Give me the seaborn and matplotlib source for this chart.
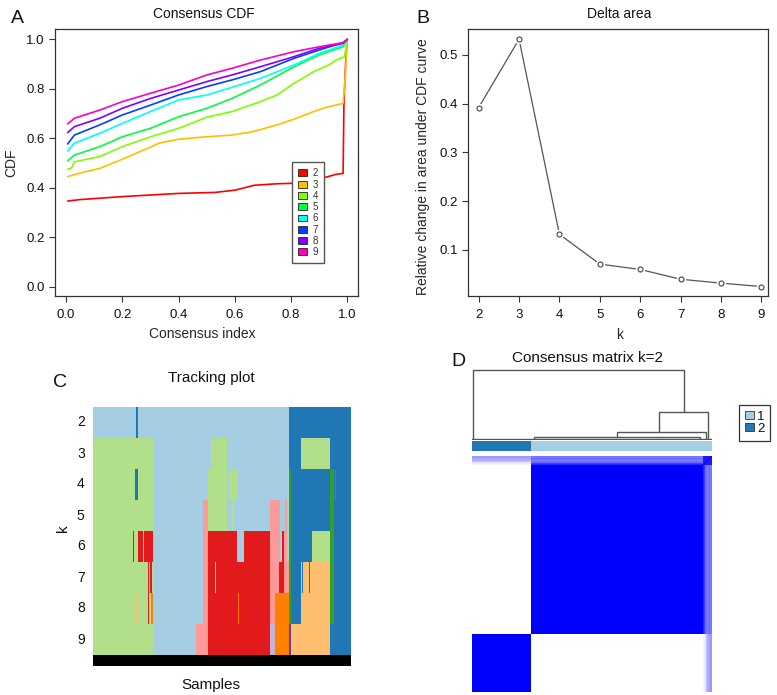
import numpy as np
import pandas as pd
import matplotlib
matplotlib.use("Agg")
import matplotlib.pyplot as plt
from matplotlib.colors import ListedColormap, LinearSegmentedColormap
from matplotlib.patches import Patch
from matplotlib.ticker import FormatStrFormatter
import seaborn as sns

# ---------------- Panel A: consensus CDF ----------------
cdf_k = [2, 3, 4, 5, 6, 7, 8, 9]
cdf_colors = ["#FF0000", "#FFBF00", "#80FF00", "#00FF40",
              "#00FFFF", "#0040FF", "#8000FF", "#FF00BF"]
x_k2 = [0.006, 0.05, 0.2, 0.4, 0.53, 0.6, 0.67, 0.75, 0.81, 0.86, 0.9, 0.96, 0.985, 0.988, 0.995, 1.0]
y_k2 = [0.346, 0.352, 0.364, 0.377, 0.381, 0.39, 0.41, 0.416, 0.418, 0.425, 0.435, 0.454, 0.458, 0.74, 0.93, 1.0]
x_k3 = [0.006, 0.06, 0.12, 0.2, 0.29, 0.33, 0.4, 0.5, 0.59, 0.665, 0.75, 0.81, 0.88, 0.925, 0.985, 0.99, 1.0]
y_k3 = [0.445, 0.462, 0.478, 0.515, 0.559, 0.58, 0.596, 0.606, 0.613, 0.627, 0.654, 0.677, 0.708, 0.725, 0.741, 0.80, 1.0]
x_k4 = [0.006, 0.02, 0.03, 0.12, 0.2, 0.3, 0.4, 0.5, 0.59, 0.69, 0.75, 0.81, 0.88, 0.94, 0.96, 0.99, 1.0]
y_k4 = [0.474, 0.48, 0.505, 0.526, 0.566, 0.606, 0.64, 0.685, 0.708, 0.748, 0.775, 0.822, 0.869, 0.90, 0.916, 0.93, 1.0]
x_hi = [0.006, 0.03, 0.12, 0.2, 0.3, 0.4, 0.5, 0.59, 0.69, 0.81, 0.9, 0.985, 1.0]
y_k5 = [0.509, 0.532, 0.566, 0.606, 0.64, 0.687, 0.721, 0.761, 0.815, 0.889, 0.937, 0.97, 1.0]
y_k6 = [0.549, 0.58, 0.62, 0.66, 0.708, 0.755, 0.775, 0.806, 0.842, 0.896, 0.943, 0.977, 1.0]
y_k7 = [0.577, 0.613, 0.654, 0.694, 0.734, 0.775, 0.809, 0.836, 0.869, 0.923, 0.957, 0.987, 1.0]
y_k8 = [0.623, 0.647, 0.681, 0.721, 0.761, 0.795, 0.829, 0.856, 0.889, 0.93, 0.964, 0.984, 1.0]
y_k9 = [0.658, 0.681, 0.714, 0.748, 0.782, 0.815, 0.856, 0.883, 0.916, 0.95, 0.97, 0.987, 1.0]
cdf_x_list = [x_k2, x_k3, x_k4, x_hi, x_hi, x_hi, x_hi, x_hi]
cdf_y_list = [y_k2, y_k3, y_k4, y_k5, y_k6, y_k7, y_k8, y_k9]

# ---------------- Panel B: delta area ----------------
delta_k = [2, 3, 4, 5, 6, 7, 8, 9]
delta_area = [0.392, 0.532, 0.132, 0.071, 0.060, 0.040, 0.032, 0.025]

# ---------------- Panel C: tracking plot ----------------
track_k = [2, 3, 4, 5, 6, 7, 8, 9]
track_colors = ["#A6CEE3", "#1F78B4", "#B2DF8A", "#33A02C", "#FB9A99",
                "#E31A1C", "#FDBF6F", "#FF7F00", "#CAB2D6", "#6A3D9A"]
n_track = 258
runs_k2 = [(1, 43), (2, 45), (1, 196), (2, 258)]
runs_k3 = [(3, 60), (1, 118), (3, 134), (1, 196), (2, 208), (3, 237), (2, 258)]
runs_k4 = [(3, 42), (2, 45), (3, 60), (1, 115), (3, 134), (1, 136), (3, 145), (1, 196),
           (4, 198), (2, 237), (4, 241), (2, 242), (4, 243), (2, 258)]
runs_k5 = [(3, 60), (1, 110), (5, 115), (3, 134), (1, 139), (3, 141), (1, 177), (5, 187),
           (1, 192), (5, 194), (1, 196), (4, 198), (2, 237), (4, 241), (2, 258)]
runs_k6 = [(3, 40), (6, 41), (3, 45), (6, 50), (3, 51), (6, 60), (1, 110), (5, 115),
           (6, 144), (1, 151), (6, 177), (5, 187), (1, 189), (6, 191), (5, 194), (1, 196),
           (4, 198), (2, 219), (3, 237), (4, 241), (2, 258)]
runs_k7 = [(3, 55), (6, 56), (3, 57), (6, 59), (3, 60), (1, 110), (5, 115), (6, 122),
           (3, 123), (6, 177), (5, 186), (6, 191), (5, 196), (4, 198), (2, 208), (7, 209),
           (2, 210), (7, 216), (2, 217), (7, 237), (4, 241), (2, 258)]
runs_k8 = [(3, 43), (7, 45), (3, 55), (6, 56), (3, 58), (8, 60), (1, 110), (5, 115),
           (6, 145), (8, 146), (6, 177), (5, 182), (8, 196), (4, 198), (2, 208), (7, 237),
           (4, 241), (2, 258)]
runs_k9 = [(3, 60), (1, 103), (5, 115), (6, 177), (9, 182), (8, 196), (10, 198), (7, 237), (2, 258)]
track_runs = [runs_k2, runs_k3, runs_k4, runs_k5, runs_k6, runs_k7, runs_k8, runs_k9]

# ---------------- Panel D: consensus matrix k=2 ----------------
cm_sizes = [59, 172, 9]          # cluster 2, cluster 1, ambiguous (cluster 1)
cm_cluster = [2, 1, 1]
amb_c1 = [0.85, 0.75, 0.6, 0.55, 0.5, 0.55, 0.6, 0.5, 0.55]
amb_c2 = [0.05, 0.08, 0.1, 0.25, 0.3, 0.35, 0.35, 0.4, 0.4]
amb_amb = 0.9
cm_colors = {1: "#A6CEE3", 2: "#1F78B4"}
dend_left = [0.5, 186.5, 145.0, 61.5]
dend_right = [211.5, 235.5, 233.5, 228.0]
dend_height = [1.0, 0.39, 0.10, 0.04]
dend_left_h = [0.0, 0.10, 0.04, 0.0]
dend_right_h = [0.39, 0.0, 0.0, 0.0]

# ---------------- style ----------------
sns.set_style("ticks")
plt.rcParams['font.family'] = ['Liberation Sans', 'DejaVu Sans']
plt.rcParams['axes.edgecolor'] = '#333333'
plt.rcParams['axes.linewidth'] = 0.9
plt.rcParams['text.color'] = '#111111'

W, H = 777, 695
fig = plt.figure(figsize=(W / 100, H / 100), dpi=100)


def rect(x0, y0, x1, y1):
    return [x0 / W, 1 - y1 / H, (x1 - x0) / W, (y1 - y0) / H]


def fp(x, y):
    return (x / W, 1 - y / H)


def style_box(ax):
    for s in ax.spines.values():
        s.set_visible(True)
        s.set_color('#333333')
        s.set_linewidth(0.9)
    ax.tick_params(direction='out', length=4, width=0.8, color='#333333',
                   labelsize=9.5, labelcolor='#111111')
    ax.tick_params(axis='x', pad=5.5)
    ax.tick_params(axis='y', pad=3.5)


# ---- A
axA = fig.add_axes(rect(55, 29, 358, 296))
rows = []
for k, xs, ys in zip(cdf_k, cdf_x_list, cdf_y_list):
    for x, y in zip(xs, ys):
        rows.append((k, x, y))
dfA = pd.DataFrame(rows, columns=['k', 'index', 'cdf'])
sns.lineplot(data=dfA, x='index', y='cdf', hue='k', palette=dict(zip(cdf_k, cdf_colors)),
             estimator=None, sort=False, lw=1.2, legend=False, ax=axA)
axA.set_xlim(-0.039, 1.038)
axA.set_ylim(-0.038, 1.042)
axA.set_xticks(np.arange(0, 1.01, 0.2))
axA.set_yticks(np.arange(0, 1.01, 0.2))
axA.xaxis.set_major_formatter(FormatStrFormatter('%.1f'))
axA.yaxis.set_major_formatter(FormatStrFormatter('%.1f'))
style_box(axA)
axA.set_xlabel("Consensus index", fontsize=10)
axA.set_ylabel("CDF", fontsize=10)
axA.xaxis.set_label_coords(0.487, -0.142)
axA.xaxis.label.set_va('center')
axA.yaxis.set_label_coords(-0.145, 0.5)
axA.yaxis.label.set_va('center')
handlesA = [Patch(facecolor=c, edgecolor='#222222', linewidth=0.6) for c in cdf_colors]
legA = axA.legend(handlesA, [str(k) for k in cdf_k], loc='upper left',
                  bbox_to_anchor=(0.782, 0.502), borderaxespad=0, fontsize=7,
                  handlelength=0.9, handleheight=0.7, handletextpad=0.55,
                  labelspacing=0.13, borderpad=0.65, fancybox=False, framealpha=1)
legA.get_frame().set_edgecolor('#555555')
legA.get_frame().set_linewidth(1.0)
for t in legA.get_texts():
    t.set_color('#333333')
fig.text(*fp(203.5, 14), "Consensus CDF", ha='center', va='center', fontsize=10)

# ---- B
axB = fig.add_axes(rect(468, 29, 768, 296))
dfB = pd.DataFrame({'k': delta_k, 'delta': delta_area})
sns.lineplot(data=dfB, x='k', y='delta', color='#555555', lw=0.9, ax=axB)
sns.scatterplot(data=dfB, x='k', y='delta', s=45, color='white', linewidth=0, zorder=3, ax=axB)
sns.scatterplot(data=dfB, x='k', y='delta', s=13, facecolor='white', edgecolor='#444444',
                linewidth=0.8, zorder=4, ax=axB)
axB.set_xlim(1.736, 9.165)
axB.set_ylim(0.0056, 0.553)
axB.set_xticks(delta_k)
axB.set_yticks([0.1, 0.2, 0.3, 0.4, 0.5])
axB.yaxis.set_major_formatter(FormatStrFormatter('%.1f'))
style_box(axB)
axB.set_xlabel("k", fontsize=10)
axB.set_ylabel("Relative change in area under CDF curve", fontsize=10)
axB.xaxis.set_label_coords(0.507, -0.146)
axB.xaxis.label.set_va('center')
axB.yaxis.set_label_coords(-0.15, 0.483)
axB.yaxis.label.set_va('center')
fig.text(*fp(619.5, 14), "Delta area", ha='center', va='center', fontsize=10)

# ---- C
def expand(runs):
    arr = np.zeros(n_track, dtype=int)
    start = 0
    for code, end in runs:
        arr[start:end] = code
        start = end
    return arr


track_mat = np.vstack([expand(r) for r in track_runs])
axC = fig.add_axes(rect(93, 407, 351, 655))
sns.heatmap(track_mat, cmap=ListedColormap(track_colors), vmin=0.5, vmax=10.5, cbar=False,
            xticklabels=False, yticklabels=[str(k) for k in track_k], ax=axC)
axC.tick_params(axis='y', length=0, pad=6, labelsize=10, rotation=0, labelcolor='#111111')
axC.set_ylabel("")
axCb = fig.add_axes(rect(93, 655, 351, 666))
sns.heatmap(np.zeros((1, n_track)), cmap=ListedColormap(['black']), cbar=False,
            xticklabels=False, yticklabels=False, ax=axCb)
fig.text(*fp(211, 378), "Tracking plot", ha='center', va='center', fontsize=11)
fig.text(*fp(211, 685), "Samples", ha='center', va='center', fontsize=11)
fig.text(*fp(63, 528), "k", ha='center', va='center', fontsize=11, rotation=90)

# ---- D
n_cm = sum(cm_sizes)
grp = np.repeat([0, 1, 2], cm_sizes)
amb_idx = np.cumsum([0] + cm_sizes)[2]
cons = np.zeros((n_cm, n_cm))
for i in range(n_cm):
    for j in range(n_cm):
        gi, gj = grp[i], grp[j]
        if i == j:
            v = 1.0
        elif gi == 2 and gj == 2:
            v = amb_amb
        elif gi == 2 or gj == 2:
            a = (i if gi == 2 else j) - amb_idx
            other = gj if gi == 2 else gi
            v = amb_c1[a] if other == 1 else amb_c2[a]
        else:
            v = 1.0 if gi == gj else 0.0
        cons[i, j] = v
cons_rows = cons[::-1]
axD = fig.add_axes(rect(472, 456, 712, 692))
sns.heatmap(cons_rows, cmap=LinearSegmentedColormap.from_list('wb', ['white', '#0000FF']),
            vmin=0, vmax=1, cbar=False, xticklabels=False, yticklabels=False, ax=axD)

clus_codes = np.repeat(cm_cluster, cm_sizes)[None, :]
axDc = fig.add_axes(rect(472, 441, 712, 451))
sns.heatmap(clus_codes, cmap=ListedColormap([cm_colors[1], cm_colors[2]]), vmin=0.5, vmax=2.5,
            cbar=False, xticklabels=False, yticklabels=False, ax=axDc)

axDd = fig.add_axes(rect(472, 369, 712, 440.3))
for xl, xr, h, lh, rh in zip(dend_left, dend_right, dend_height, dend_left_h, dend_right_h):
    axDd.plot([xl, xl, xr, xr], [lh, h, h, rh], color='#555555', lw=1.0, solid_joinstyle='miter')
axDd.plot([0, n_cm], [0, 0], color='#555555', lw=1.0)
axDd.set_xlim(0, n_cm)
axDd.set_ylim(-0.0144, 1.0144)
axDd.axis('off')

legD = fig.legend([Patch(facecolor=cm_colors[1], edgecolor='#333333', linewidth=0.6),
                   Patch(facecolor=cm_colors[2], edgecolor='#333333', linewidth=0.6)],
                  ['1', '2'], loc='upper left', bbox_to_anchor=fp(739, 405), borderaxespad=0,
                  fontsize=9.5, handlelength=0.7, handleheight=0.6, handletextpad=0.2,
                  labelspacing=0.0, borderpad=0.45, fancybox=False, framealpha=1)
legD.get_frame().set_edgecolor('#333333')
legD.get_frame().set_linewidth(0.9)
fig.text(*fp(587.5, 358), "Consensus matrix k=2", ha='center', va='center', fontsize=11)

# ---- panel letters
for letter, (x, y) in zip("ABCD", [(17.5, 18.5), (422.5, 18.5), (60.5, 382.5), (458.5, 361.5)]):
    fig.text(*fp(x, y), letter, ha='center', va='center', fontsize=14)

fig.savefig("out.png", dpi=100)
